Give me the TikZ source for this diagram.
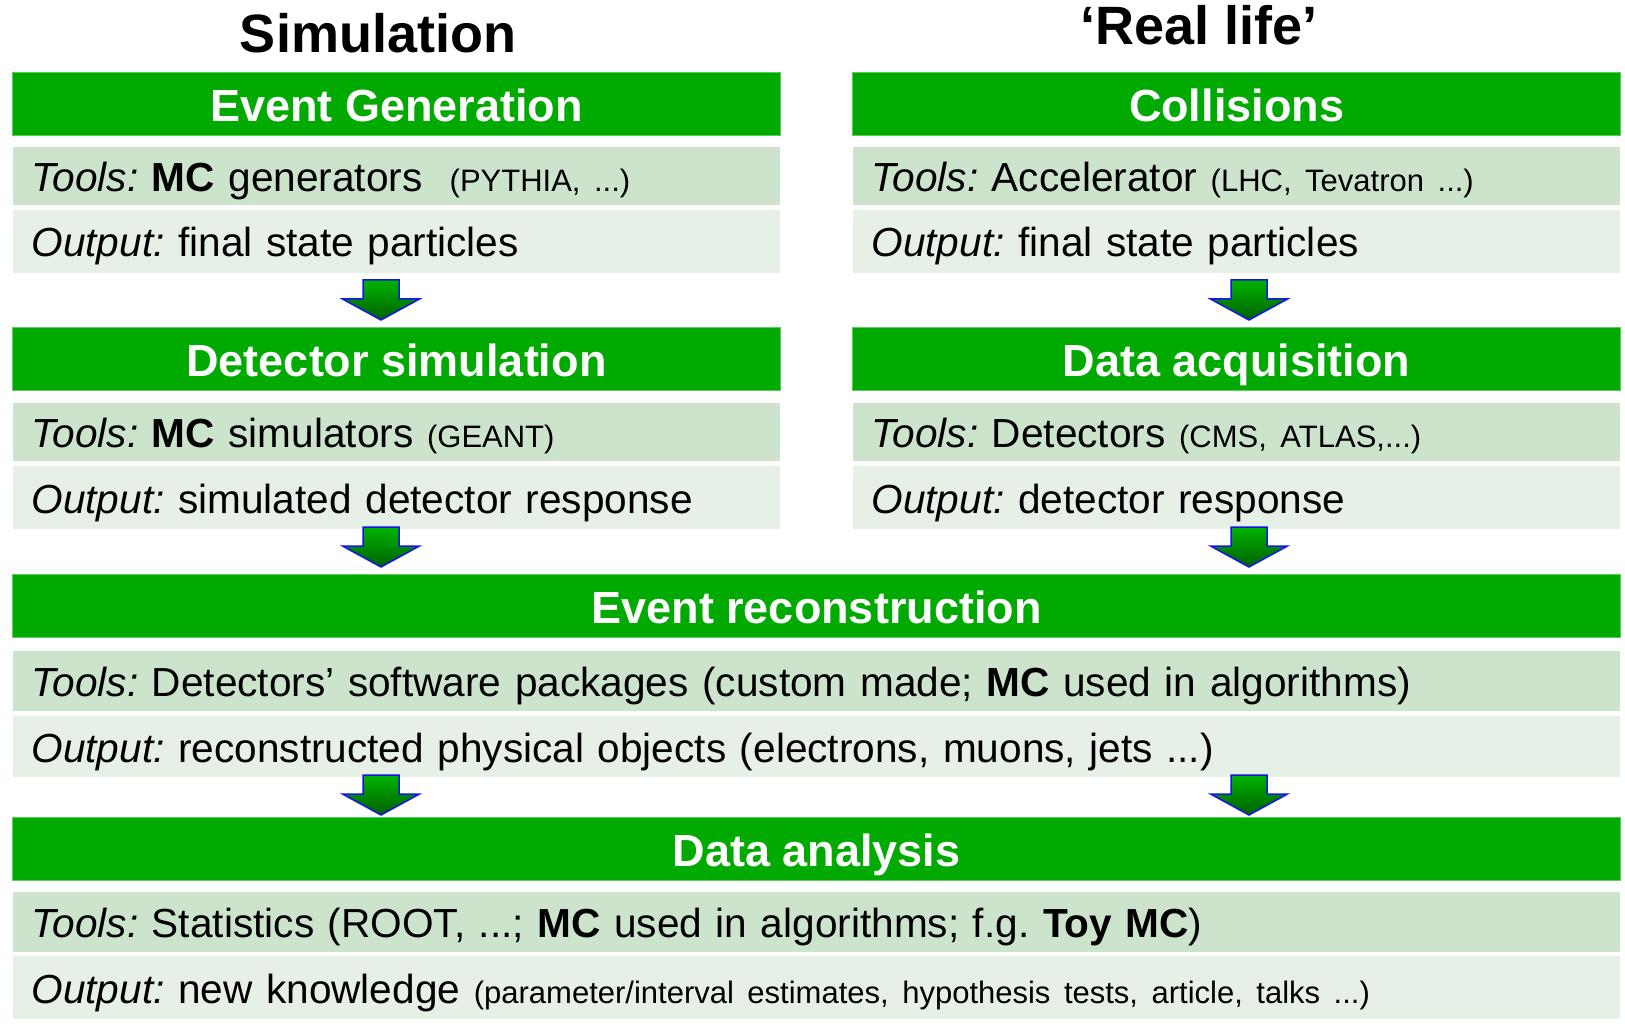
\documentclass[tikz,border=0pt]{standalone}
\usepackage{fontspec}
\setmainfont{Liberation Sans}
\frenchspacing
\definecolor{hdrgreen}{RGB}{0,170,0}
\definecolor{hdredge}{RGB}{90,205,90}
\definecolor{toolsbg}{RGB}{204,227,204}
\definecolor{outbg}{RGB}{230,240,230}
\definecolor{arrowtop}{RGB}{0,180,0}
\definecolor{arrowbot}{RGB}{0,95,0}
\definecolor{arrowedge}{RGB}{20,20,235}
\newcommand{\bodyfont}{\fontsize{40.6}{48}\selectfont}
\newcommand{\smallpar}[1]{{\fontsize{31}{37}\selectfont #1}}
\tikzset{
  header/.style={anchor=north west, fill=hdrgreen, draw=hdredge, line width=1pt, text=white,
    font=\fontsize{45}{54}\selectfont\bfseries, inner sep=0pt, minimum height=63pt,
    text height=35pt, text depth=0pt},
  rowbox/.style={anchor=north west, draw=white, line width=1pt, font=\bodyfont, align=left,
    inner xsep=19pt, inner ysep=0pt, text height=31pt, text depth=0pt},
  toolsrow/.style={rowbox, fill=toolsbg},
  outrow/.style={rowbox, fill=outbg},
  halfw/.style={text width=730pt},
  fullw/.style={text width=1570pt},
  title/.style={font=\fontsize{54}{64}\selectfont\bfseries, anchor=base},
  downarrow/.style={draw=arrowedge, line width=1.5pt, line join=miter, top color=arrowtop, bottom color=arrowbot}
}
\begin{document}
\begin{tikzpicture}[x=1pt,y=-1pt]
    \useasboundingbox[fill=white] (0,0) rectangle (1625,1024);
    % column titles
    \node[title] (simtitle) at (378,53) {Simulation};
    \node[title] (realtitle) at (1199,45) {‘Real life’};
    % simulation side
    \node[header, minimum width=768pt] (evgen) at (12,72) {Event Generation};
    \node[toolsrow, halfw, minimum height=59pt] (evgentools) at (12,146) {\textit{Tools:} \textbf{MC} generators \ \smallpar{(PYTHIA, ...)}};
    \node[outrow, halfw, minimum height=64pt] (evgenout) at (12,209) {\textit{Output:} final state particles};
    \node[header, minimum width=768pt] (detsim) at (12,327) {Detector simulation};
    \node[toolsrow, halfw, minimum height=59pt] (detsimtools) at (12,402) {\textit{Tools:} \textbf{MC} simulators \smallpar{(GEANT)}};
    \node[outrow, halfw, minimum height=64pt] (detsimout) at (12,465) {\textit{Output:} simulated detector response};
    % real life side
    \node[header, minimum width=768pt] (coll) at (852,72) {Collisions};
    \node[toolsrow, halfw, minimum height=59pt] (colltools) at (852,146) {\textit{Tools:} Accelerator \smallpar{(LHC, Tevatron ...)}};
    \node[outrow, halfw, minimum height=64pt] (collout) at (852,209) {\textit{Output:} final state particles};
    \node[header, minimum width=768pt] (daq) at (852,327) {Data acquisition};
    \node[toolsrow, halfw, minimum height=59pt] (daqtools) at (852,402) {\textit{Tools:} Detectors \smallpar{(CMS, ATLAS,...)}};
    \node[outrow, halfw, minimum height=64pt] (daqout) at (852,465) {\textit{Output:} detector response};
    % common part
    \node[header, minimum width=1608pt] (reco) at (12,574) {Event reconstruction};
    \node[toolsrow, fullw, minimum height=61pt] (recotools) at (12,650) {\textit{Tools:} Detectors’ software packages (custom made; \textbf{MC} used in algorithms)};
    \node[outrow, fullw, minimum height=62pt] (recoout) at (12,715) {\textit{Output:} reconstructed physical objects (electrons, muons, jets ...)};
    \node[header, minimum width=1608pt] (ana) at (12,817) {Data analysis};
    \node[toolsrow, fullw, minimum height=61pt] (anatools) at (12,891) {\textit{Tools:} Statistics (ROOT, ...; \textbf{MC} used in algorithms; f.g. \textbf{Toy MC})};
    \node[outrow, fullw, minimum height=64pt] (anaout) at (12,955) {\textit{Output:} new knowledge \smallpar{(parameter/interval estimates, hypothesis tests, article, talks ...)}};
    % block arrows between the stages
    \foreach \x/\y in {381/280, 1249/280, 381/527, 1249/527, 381/775, 1249/775}
        \draw[downarrow] (\x-18,\y) -- (\x+18,\y) -- (\x+18,\y+19) -- (\x+38.5,\y+19) -- (\x,\y+40)
            -- (\x-38.5,\y+19) -- (\x-18,\y+19) -- cycle;
\end{tikzpicture}
\end{document}
